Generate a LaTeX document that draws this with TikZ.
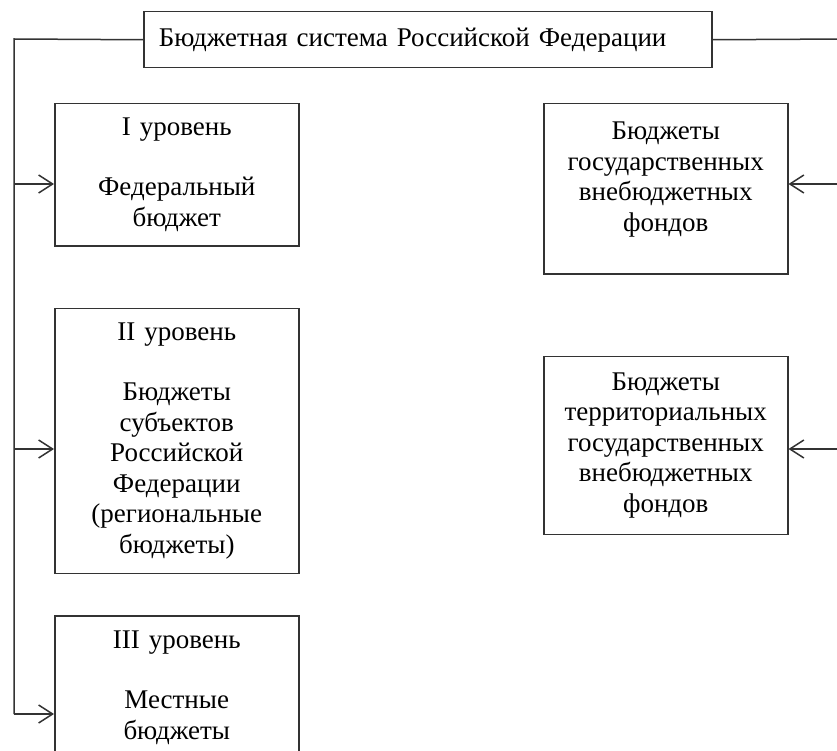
\documentclass[tikz,border=0pt]{standalone}
\usepackage{fontspec}
\setmainfont{Liberation Serif}
\usepackage{tikz}
\usetikzlibrary{arrows.meta, positioning}
\tikzset{
    header/.style={draw, rectangle, inner xsep=15pt, inner ysep=0pt, text width=538pt, align=left, minimum height=56pt, draw=black!80, line width=1.5pt, font=\fontsize{27}{30.5}\selectfont},
    level/.style={draw, rectangle, inner sep=0pt, text width=244pt, align=center, draw=black!80, line width=1.5pt, font=\fontsize{27}{30.5}\selectfont},
    fund/.style={draw, rectangle, inner sep=0pt, text width=244pt, align=center, draw=black!80, line width=1.5pt, font=\fontsize{27}{30.5}\selectfont},
    arrow/.style={->, >={Straight Barb[length=14pt, width=18pt]}, line width=1.5pt, draw=black!80},
    trunk/.style={line width=1.5pt, draw=black!80}
}

\begin{document}
\begin{tikzpicture}[x=1pt, y=-1pt]
        \path [use as bounding box] (0,0) rectangle (837,751);
        \clip (0,0) rectangle (837,751);

        % Заголовок
        \node (budsys) [header, anchor=north west] at (143,11) {Бюджетная система Российской Федерации};

        % Уровни бюджетной системы
        \node (lev1) [level, minimum height=142pt, anchor=north west] at (54,103) {I уровень\\[30pt]Федеральный\\бюджет};
        \node (lev2) [level, minimum height=265pt, below=61pt of lev1] {II уровень\\[30pt]Бюджеты\\субъектов\\Российской\\Федерации\\(региональные\\бюджеты)};
        \node (lev3) [level, minimum height=144pt, below=41pt of lev2] {III уровень\\[30pt]Местные\\бюджеты};

        % Внебюджетные фонды
        \node (fond1) [fund, minimum height=170pt, anchor=north west] at (543,103) {Бюджеты\\государственных\\внебюджетных\\фондов\\[-6pt]\mbox{}};
        \node (fond2) [fund, minimum height=178pt, below=81pt of fond1] {Бюджеты\\территориальных\\государственных\\внебюджетных\\фондов};

        % Левая шина
        \coordinate (ltop) at (14,39);
        \coordinate (l1) at (14,184);
        \coordinate (l2) at (14,449);
        \coordinate (l3) at (14,714);
        \draw [trunk] (budsys.west) -- (ltop) -- (l3);
        \draw [arrow] (l1) -- (l1 -| lev1.west);
        \draw [arrow] (l2) -- (l2 -| lev2.west);
        \draw [arrow] (l3) -- (l3 -| lev3.west);

        % Правая шина
        \coordinate (rtop) at (845,39);
        \coordinate (r1) at (845,184);
        \coordinate (r2) at (845,449);
        \draw [trunk] (budsys.east) -- (rtop) -- (r2);
        \draw [arrow] (r1) -- (r1 -| fond1.east);
        \draw [arrow] (r2) -- (r2 -| fond2.east);

    \end{tikzpicture}
\end{document}
